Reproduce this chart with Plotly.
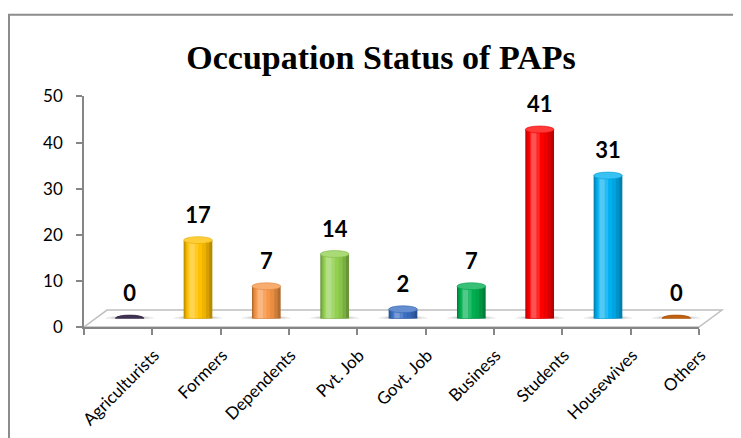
import plotly.graph_objects as go

# ---------------- data ----------------
categories = ["Agriculturists", "Formers", "Dependents", "Pvt. Job", "Govt. Job",
              "Business", "Students", "Housewives", "Others"]
values = [0, 17, 7, 14, 2, 7, 41, 31, 0]
bar_colors = ["#3F3151", "#FFC000", "#F79646", "#92D050", "#3A6FC4",
              "#00B050", "#FF0000", "#00B0F0", "#C0600F"]
y_ticks = [0, 10, 20, 30, 40, 50]
title_text = "Occupation Status of PAPs"

# ---------------- helpers ----------------
def hex2rgb(h):
    h = h.lstrip("#")
    return [int(h[i:i + 2], 16) for i in (0, 2, 4)]

def shade(h, f):
    """f<1 darkens, f>1 lightens toward white by (f-1)."""
    r = hex2rgb(h)
    if f <= 1:
        r = [int(c * f) for c in r]
    else:
        t = f - 1
        r = [int(c + (255 - c) * t) for c in r]
    return "rgb(%d,%d,%d)" % tuple(r)

# ---------------- geometry (window pixels; page body has 8px margin) ----------------
OFF = 8
W, H = 741 - OFF, 438 - OFF
front_l, front_r = 84 - OFF, 699 - OFF   # front plane x extent
depth_dx, depth_dy = 23, 17              # floor depth offset
y0_px, y50_px = 327 - OFF, 96 - OFF      # axis 0 and 50
ml = front_l
mr = W - (front_r + depth_dx)
mb = H - y0_px
mt = y50_px - depth_dy / 2
pw = W - ml - mr
ph = H - mt - mb

def px_x(px):
    return (px - ml) / pw

def px_y(py):
    return (H - mb - py) / ph

fig = go.Figure()

# invisible trace to anchor the front-plane axes (x, y)
fig.add_trace(go.Scatter(x=categories, y=values, mode="markers",
                         marker=dict(opacity=0), xaxis="x", yaxis="y",
                         hoverinfo="skip", showlegend=False))

# cylinder bodies: layered bars from dark edge to bright highlight
bar_w = 0.42
layers = [(1.00, 0.72), (0.86, 0.84), (0.70, 0.94), (0.52, 1.00),
          (0.34, 1.15), (0.18, 1.32)]
for frac, f in layers:
    w = bar_w * frac
    c = -0.25 * (1 - frac) * bar_w
    fig.add_trace(go.Bar(
        x=list(range(len(categories))), y=values, width=w, offset=c - w / 2,
        marker=dict(color=[shade(col, f) for col in bar_colors], line=dict(width=0)),
        xaxis="x2", yaxis="y2", hoverinfo="skip", showlegend=False))

# data labels
px_per_unit = (y0_px - y50_px) / 50
label_gap = 23 / px_per_unit
fig.add_trace(go.Scatter(
    x=list(range(len(categories))), y=[v + label_gap for v in values],
    mode="text", text=[str(v) for v in values], textposition="middle center",
    textfont=dict(family="Lato", size=22, color="black", weight="bold"),
    xaxis="x2", yaxis="y2", hoverinfo="skip", showlegend=False, cliponaxis=False))

shapes = []
# frame border
shapes.append(dict(type="rect", xref="paper", yref="paper",
                   x0=px_x(1), x1=px_x(W + 20), y0=px_y(H + 20), y1=px_y(14 - OFF),
                   line=dict(color="#8C8C8C", width=2), fillcolor="rgba(0,0,0,0)",
                   layer="below"))
# floor
path = "M %f,%f L %f,%f L %f,%f L %f,%f Z" % (
    px_x(front_l), px_y(y0_px), px_x(front_r), px_y(y0_px),
    px_x(front_r + depth_dx), px_y(y0_px - depth_dy),
    px_x(front_l + depth_dx), px_y(y0_px - depth_dy))
shapes.append(dict(type="path", xref="paper", yref="paper", path=path,
                   fillcolor="#FFFFFF", line=dict(color="#BFBFBF", width=1.5),
                   layer="below"))

ell_h = 7 / px_per_unit  # ellipse height in value units
for i, (v, col) in enumerate(zip(values, bar_colors)):
    # soft shadow on floor
    shapes.append(dict(type="circle", xref="x2", yref="y2",
                       x0=i - 0.36, x1=i + 0.36, y0=-ell_h * 0.4, y1=ell_h * 0.4,
                       fillcolor="rgba(0,0,0,0.10)", line=dict(width=0), layer="below"))
    shapes.append(dict(type="circle", xref="x2", yref="y2",
                       x0=i - 0.28, x1=i + 0.28, y0=-ell_h * 0.3, y1=ell_h * 0.3,
                       fillcolor="rgba(0,0,0,0.10)", line=dict(width=0), layer="below"))
    # bottom ellipse
    shapes.append(dict(type="circle", xref="x2", yref="y2",
                       x0=i - bar_w / 2, x1=i + bar_w / 2,
                       y0=-ell_h / 2, y1=ell_h / 2,
                       fillcolor=shade(col, 0.8), line=dict(width=0), layer="below"))
    # top cap
    cap = shade(col, 1.22) if v > 0 else shade(col, 1.0)
    shapes.append(dict(type="circle", xref="x2", yref="y2",
                       x0=i - bar_w / 2, x1=i + bar_w / 2,
                       y0=v - ell_h / 2, y1=v + ell_h / 2,
                       fillcolor=cap, line=dict(color=shade(col, 0.9), width=0.6),
                       layer="above"))

axis_gray = "#868686"
fig.update_layout(
    width=W, height=H,
    margin=dict(l=ml, r=mr, t=mt, b=mb, pad=0, autoexpand=False),
    paper_bgcolor="white", plot_bgcolor="rgba(0,0,0,0)",
    barmode="overlay",
    showlegend=False,
    title=dict(text=title_text, x=(381 - OFF) / W, xanchor="center", xref="container",
               y=1 - (57 - OFF) / H, yanchor="middle", yref="container",
               font=dict(family="Liberation Serif", size=34, color="black", weight="bold")),
    xaxis=dict(domain=[0, px_x(front_r)], type="category", range=[-0.5, 8.5],
               automargin=False,
               showline=True, linecolor=axis_gray, linewidth=1.5,
               ticks="outside", tickson="boundaries", ticklen=6, tickcolor=axis_gray,
               tickwidth=1.5, tickangle=-45, showgrid=False, zeroline=False,
               ticklabelshift=36, ticklabelstandoff=10,
               tickfont=dict(family="Lato", size=17, color="black")),
    yaxis=dict(domain=[0, px_y(y50_px)], range=[0, 50], tickvals=y_ticks,
               automargin=False,
               showline=True, linecolor=axis_gray, linewidth=1.5,
               ticks="outside", ticklen=6, tickcolor=axis_gray, tickwidth=1.5,
               showgrid=False, zeroline=False, ticklabelstandoff=10,
               tickfont=dict(family="Lato", size=17, color="black")),
    xaxis2=dict(domain=[px_x(front_l + depth_dx / 2), px_x(front_r + depth_dx / 2)],
                range=[-0.5, 8.5], visible=False, anchor="y2", fixedrange=True),
    yaxis2=dict(domain=[px_y(y0_px - depth_dy / 2), 1], range=[0, 50],
                visible=False, anchor="x2", fixedrange=True),
    shapes=shapes,
)

fig.write_html("out.html")
